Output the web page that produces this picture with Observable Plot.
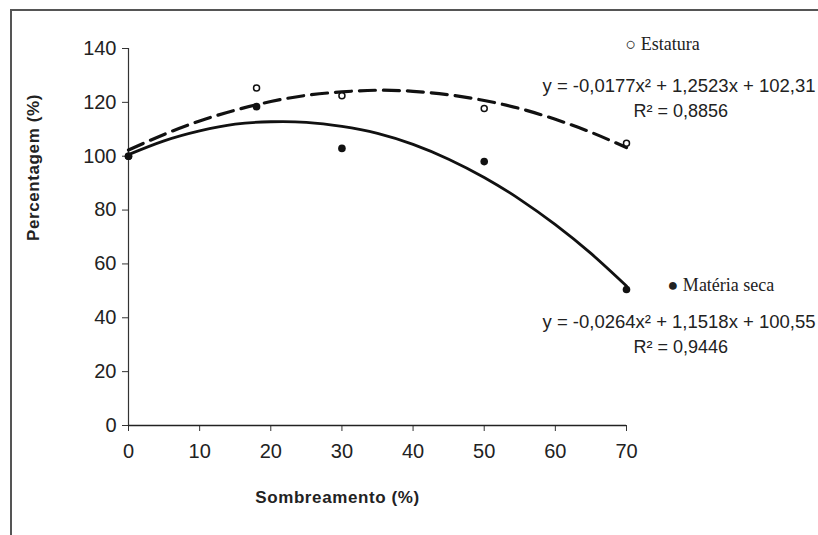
<!DOCTYPE html>
<html>
<head>
<meta charset="utf-8">
<script src="https://cdn.jsdelivr.net/npm/d3@7"></script>
<script src="https://cdn.jsdelivr.net/npm/@observablehq/plot@0.6"></script>
<style>
  html, body { margin: 0; padding: 0; background: #fff; }
  #wrap { position: relative; width: 818px; height: 535px; overflow: hidden; }
  #border { position: absolute; left: 10px; top: 9px; width: 900px; height: 700px;
            border-left: 2px solid #555; border-top: 2px solid #555; pointer-events: none; }
</style>
</head>
<body>
<div id="wrap"><div id="border"></div></div>
<script>
// Observed points
const shade = [0, 18, 30, 50, 70];
const estatura = [100, 125.3, 122.5, 117.7, 104.8];
const materiaSeca = [100, 118.4, 102.9, 98.0, 50.5];

// Trend curves
const fitX = [0, 5, 10, 15, 20, 25, 30, 35, 40, 45, 50, 55, 60, 65, 70];
const estaturaFit = [102.3, 108.1, 113.1, 117.1, 120.3, 122.6, 123.9, 124.5, 124.1, 122.8, 120.7, 117.7, 113.7, 108.9, 103.2];
const materiaSecaFit = [100.6, 105.7, 109.4, 111.9, 112.8, 112.6, 111.1, 108.5, 104.4, 98.9, 92.1, 84.0, 74.6, 63.9, 51.8];

const xTicks = [0, 10, 20, 30, 40, 50, 60, 70];
const yTicks = [0, 20, 40, 60, 80, 100, 120, 140];

const xLabel = "Sombreamento (%)";
const yLabel = "Percentagem (%)";
const legendEstatura = "○ Estatura";
const legendMateria = "● Matéria seca";
const eqEstatura = "y = -0,0177x² + 1,2523x + 102,31";
const r2Estatura = "R² = 0,8856";
const eqMateria = "y = -0,0264x² + 1,1518x + 100,55";
const r2Materia = "R² = 0,9446";

const pts = shade.map((x, i) => ({x, est: estatura[i], ms: materiaSeca[i]}));
const fits = fitX.map((x, i) => ({x, est: estaturaFit[i], ms: materiaSecaFit[i]}));

const sans = "Liberation Sans, Arial, sans-serif";
const serif = "Liberation Serif, Times New Roman, serif";

const chart = Plot.plot({
  width: 818,
  height: 535,
  marginLeft: 128,
  marginRight: 192,
  marginTop: 48,
  marginBottom: 110,
  style: {fontFamily: sans, fontSize: "18px", color: "#222", background: "transparent", overflow: "visible"},
  x: {domain: [0, 70]},
  y: {domain: [0, 140]},
  marks: [
    Plot.axisX({ticks: xTicks, tickSize: 6, tickPadding: 12, label: null, stroke: "#333", fontSize: 20}),
    Plot.axisY({ticks: yTicks, tickSize: 6, tickPadding: 6, label: null, stroke: "#333", fontSize: 20}),
    Plot.ruleX([0], {y1: 0, y2: 140, stroke: "#333", strokeWidth: 1.2}),
    Plot.ruleY([0], {x1: 0, x2: 70, stroke: "#222", strokeWidth: 1.4}),
    Plot.line(fits, {x: "x", y: "est", curve: "natural", stroke: "#111", strokeWidth: 3.2, strokeDasharray: "16,8"}),
    Plot.line(fits, {x: "x", y: "ms", curve: "natural", stroke: "#111", strokeWidth: 2.8}),
    Plot.dot(pts, {x: "x", y: "est", r: 3, stroke: "#111", fill: "white", strokeWidth: 1.5}),
    Plot.dot(pts, {x: "x", y: "ms", r: 3.8, fill: "#111", stroke: "none"}),
    Plot.text([xLabel], {text: d => d, frameAnchor: "bottom", lineAnchor: "middle", dx: -40, dy: 72, fontWeight: "bold", fontSize: 17, fill: "#222"}),
    Plot.text([yLabel], {text: d => d, frameAnchor: "left", lineAnchor: "middle", dx: -95, dy: 4, rotate: -90, fontWeight: "bold", fontSize: 17, fill: "#222"}),
    Plot.text([legendEstatura], {text: d => d, frameAnchor: "top-left", lineAnchor: "middle", dx: 497, dy: -4, textAnchor: "start", fontFamily: serif, fontSize: 18, fill: "#222"}),
    Plot.text([eqEstatura], {text: d => d, frameAnchor: "top-left", lineAnchor: "middle", dx: 414, dy: 38, textAnchor: "start", fontSize: 18.5, fill: "#222"}),
    Plot.text([r2Estatura], {text: d => d, frameAnchor: "top-left", lineAnchor: "middle", dx: 505, dy: 63, textAnchor: "start", fontSize: 18, fill: "#222"}),
    Plot.text([legendMateria], {text: d => d, frameAnchor: "top-left", lineAnchor: "middle", dx: 539, dy: 237, textAnchor: "start", fontFamily: serif, fontSize: 18, fill: "#222"}),
    Plot.text([eqMateria], {text: d => d, frameAnchor: "top-left", lineAnchor: "middle", dx: 414, dy: 274, textAnchor: "start", fontSize: 18.5, fill: "#222"}),
    Plot.text([r2Materia], {text: d => d, frameAnchor: "top-left", lineAnchor: "middle", dx: 505, dy: 299, textAnchor: "start", fontSize: 18, fill: "#222"})
  ]
});
// letter spacing on the axis titles, as in the reference
d3.select(chart).selectAll("text").filter(function () {
  const t = this.textContent;
  return t === xLabel || t === yLabel;
}).style("letter-spacing", "0.6px");
document.getElementById("wrap").appendChild(chart);
</script>
</body>
</html>
